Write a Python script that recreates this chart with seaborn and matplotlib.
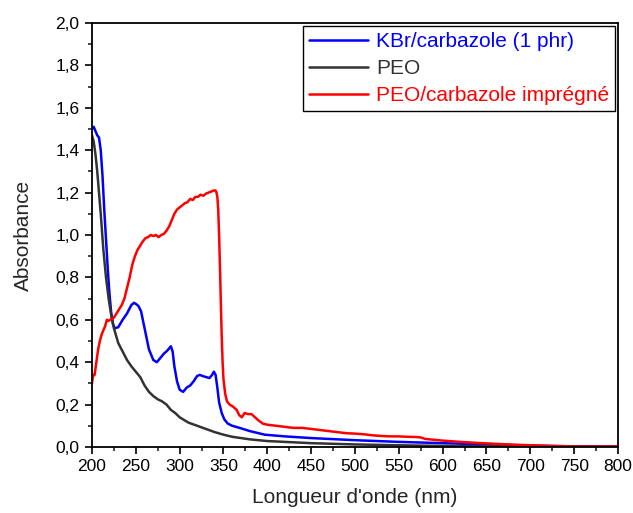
import numpy as np
import pandas as pd
import matplotlib
matplotlib.use("Agg")
import matplotlib.pyplot as plt
import seaborn as sns
from matplotlib.ticker import MultipleLocator

sns.set_style("ticks")
plt.rcParams['font.family'] = ['Liberation Sans', 'DejaVu Sans']

# ---- data ----
labels = ["KBr/carbazole (1 phr)", "PEO", "PEO/carbazole imprégné"]
colors = ["#0000FF", "#333333", "#FF0000"]

wl_kbr = [200, 202, 204, 206, 208, 210, 212, 214, 216, 218, 220, 222, 224, 226, 230, 235,
          240, 245, 248, 250, 253, 256, 260, 265, 270, 274, 278, 282, 286, 290, 292, 294,
          297, 300, 304, 308, 312, 316, 320, 323, 326, 330, 334, 337, 339, 341, 343, 345,
          348, 351, 355, 360, 370, 380, 397, 420, 450, 500, 550, 600, 650, 700, 750, 800]
abs_kbr = [1.50, 1.51, 1.49, 1.47, 1.46, 1.40, 1.28, 1.12, 0.98, 0.84, 0.72, 0.63, 0.58,
           0.56, 0.565, 0.60, 0.63, 0.67, 0.68, 0.675, 0.665, 0.64, 0.56, 0.46, 0.41, 0.40,
           0.42, 0.44, 0.455, 0.475, 0.45, 0.38, 0.31, 0.27, 0.26, 0.28, 0.29, 0.31, 0.335,
           0.34, 0.335, 0.33, 0.325, 0.34, 0.355, 0.34, 0.28, 0.21, 0.16, 0.13, 0.11, 0.10,
           0.088, 0.075, 0.058, 0.05, 0.042, 0.032, 0.024, 0.018, 0.012, 0.007, 0.003, 0.002]

wl_peo = [200, 202, 204, 206, 208, 210, 213, 216, 219, 222, 225, 230, 235, 240, 245, 250,
          255, 260, 265, 270, 275, 280, 285, 290, 295, 300, 310, 320, 330, 340, 350, 360,
          380, 400, 450, 500, 550, 600, 650, 700, 800]
abs_peo = [1.47, 1.44, 1.38, 1.30, 1.20, 1.10, 0.93, 0.80, 0.70, 0.62, 0.56, 0.49, 0.45,
           0.41, 0.38, 0.355, 0.33, 0.29, 0.26, 0.24, 0.225, 0.215, 0.20, 0.175, 0.16, 0.14,
           0.115, 0.10, 0.085, 0.07, 0.058, 0.048, 0.036, 0.028, 0.018, 0.012, 0.008, 0.005,
           0.003, 0.002, 0.001]

wl_imp = [200, 201, 202, 203, 205, 207, 209, 211, 213, 215, 217, 219, 221, 223, 225, 228,
          231, 234, 237, 240, 243, 246, 249, 252, 255, 258, 261, 264, 267, 270, 273, 276,
          279, 282, 285, 288, 291, 294, 297, 300, 303, 306, 309, 312, 315, 318, 321, 324,
          327, 330, 333, 336, 339, 341, 342, 343, 344, 345, 346, 347, 348, 349, 350, 352,
          354, 357, 361, 365, 368, 371, 374, 378, 382, 386, 390, 395, 400, 410, 420, 430,
          440, 450, 460, 470, 480, 490, 500, 510, 520, 530, 540, 550, 560, 570, 575, 580,
          590, 600, 620, 640, 660, 680, 700, 720, 740, 760, 800]
abs_imp = [0.30, 0.33, 0.34, 0.34, 0.40, 0.46, 0.50, 0.53, 0.55, 0.57, 0.60, 0.595, 0.60,
           0.605, 0.61, 0.63, 0.65, 0.67, 0.70, 0.75, 0.80, 0.86, 0.90, 0.93, 0.95, 0.97,
           0.985, 0.99, 1.00, 0.995, 1.00, 0.99, 1.00, 1.005, 1.02, 1.04, 1.07, 1.10, 1.12,
           1.13, 1.14, 1.15, 1.155, 1.17, 1.165, 1.18, 1.18, 1.19, 1.185, 1.195, 1.20, 1.205,
           1.21, 1.21, 1.20, 1.18, 1.12, 1.00, 0.85, 0.68, 0.52, 0.40, 0.32, 0.25, 0.215,
           0.20, 0.19, 0.175, 0.15, 0.14, 0.16, 0.155, 0.155, 0.14, 0.125, 0.11, 0.105, 0.10,
           0.095, 0.09, 0.09, 0.085, 0.08, 0.075, 0.07, 0.065, 0.063, 0.06, 0.055, 0.052,
           0.05, 0.05, 0.048, 0.047, 0.045, 0.038, 0.034, 0.03, 0.024, 0.019, 0.015, 0.011,
           0.008, 0.005, 0.003, 0.002, 0.002]

xticks = [200, 250, 300, 350, 400, 450, 500, 550, 600, 650, 700, 750, 800]
yticks = [0.0, 0.2, 0.4, 0.6, 0.8, 1.0, 1.2, 1.4, 1.6, 1.8, 2.0]

df = pd.concat([
    pd.DataFrame({"wl": wl_kbr, "A": abs_kbr, "s": labels[0]}),
    pd.DataFrame({"wl": wl_peo, "A": abs_peo, "s": labels[1]}),
    pd.DataFrame({"wl": wl_imp, "A": abs_imp, "s": labels[2]}),
], ignore_index=True)

fig = plt.figure(figsize=(6.33, 5.13), dpi=100)
ax = fig.add_axes([0.1453, 0.1287, 0.9763 - 0.1453, 0.9552 - 0.1287])

sns.lineplot(data=df, x="wl", y="A", hue="s", hue_order=labels,
             palette=dict(zip(labels, colors)), estimator=None, sort=False,
             linewidth=1.8, ax=ax)

ax.set_xlim(200, 800)
ax.set_ylim(0, 2.0)
ax.set_xticks(xticks)
ax.set_xticklabels([str(t) for t in xticks])
ax.set_yticks(yticks)
ax.set_yticklabels([f"{t:.1f}".replace(".", ",") for t in yticks])
ax.xaxis.set_minor_locator(MultipleLocator(25))
ax.yaxis.set_minor_locator(MultipleLocator(0.1))
ax.tick_params(which="major", direction="out", length=5, width=1.2, labelsize=12.5,
               colors="black", pad=4)
ax.tick_params(which="minor", direction="out", length=3, width=1.2)
for sp in ax.spines.values():
    sp.set_visible(True)
    sp.set_linewidth(1.3)
    sp.set_color("black")

ax.set_xlabel("Longueur d'onde (nm)", fontsize=15, labelpad=10)
ax.set_ylabel("Absorbance", fontsize=15, labelpad=16)

leg = ax.legend(loc="upper right", bbox_to_anchor=(0.995, 0.993), fontsize=15,
                frameon=True, fancybox=False, edgecolor="black", framealpha=1,
                handlelength=2.8, handletextpad=0.4, borderpad=0.3, labelspacing=0.38,
                borderaxespad=0.0)
leg.get_frame().set_linewidth(1.0)
for txt, c in zip(leg.get_texts(), colors):
    txt.set_color(c)

fig.savefig("out.png", dpi=100)
